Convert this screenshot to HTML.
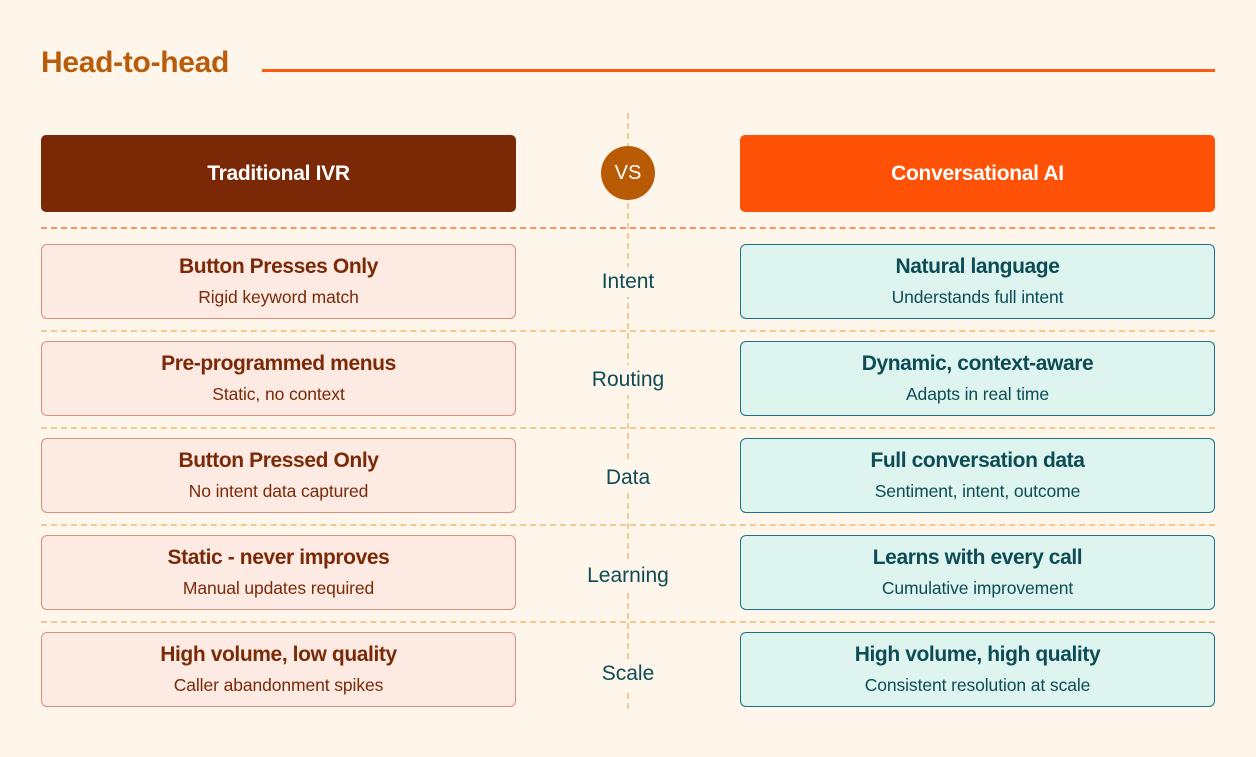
<!DOCTYPE html>
<html><head><meta charset="utf-8"><style>
*{margin:0;padding:0;box-sizing:border-box}
body{width:1256px;height:757px;background:#FEF6EA;font-family:"Liberation Sans",sans-serif;position:relative;overflow:hidden}
.a{position:absolute}
.title{left:41px;top:46px;font-size:30px;font-weight:bold;color:#B95C0B;letter-spacing:-0.3px}
.hl{left:262px;top:69px;width:953px;height:3px;background:#FF5A14}
.hd{top:135px;height:77px;border-radius:5px;color:#fff;font-size:21px;font-weight:bold;display:flex;align-items:center;justify-content:center;letter-spacing:-0.3px}
.vs{left:601px;top:146px;width:54px;height:54px;border-radius:50%;background:#B95A05;color:#fff;font-size:20px;display:flex;align-items:center;justify-content:center}
.vl{left:627px;top:113px;height:596px;border-left:2px dashed #F3C98F}
.dh{left:41px;width:1174px;height:0;border-top:2px dashed #F3C98F}
.box{height:75px;border-radius:6px;width:475px;text-align:center}
.L{left:41px;background:#FCEAE3;border:1px solid #D88E80;color:#7A2A07}
.R{left:740px;background:#DDF5EE;border:1px solid #1E7185;color:#0D4B55}
.box b{display:block;font-size:21px;margin-top:10px;letter-spacing:-0.4px}
.box span{display:block;font-size:17.5px;margin-top:8px;letter-spacing:-0.1px}
.lab{left:560px;width:136px;text-align:center;font-size:21px;color:#0D4B55;background:#FEF6EA;line-height:30px}
</style></head><body>
<div class="a title">Head-to-head</div>
<div class="a hl"></div>
<div class="a vl"></div>
<div class="a hd" style="left:41px;width:475px;background:#7A2805">Traditional IVR</div>
<div class="a hd" style="left:740px;width:475px;background:#FF5206">Conversational AI</div>
<div class="a vs">VS</div>
<div class="a dh" style="top:227px;border-top-color:#FF9060"></div>
<div class="a dh" style="top:330px"></div>
<div class="a dh" style="top:427px"></div>
<div class="a dh" style="top:524px"></div>
<div class="a dh" style="top:621px"></div>

<div class="a box L" style="top:244px"><b>Button Presses Only</b><span>Rigid keyword match</span></div>
<div class="a box R" style="top:244px"><b>Natural language</b><span>Understands full intent</span></div>
<div class="a lab" style="left:596px;width:64px;top:267px">Intent</div>

<div class="a box L" style="top:341px"><b>Pre-programmed menus</b><span>Static, no context</span></div>
<div class="a box R" style="top:341px"><b>Dynamic, context-aware</b><span>Adapts in real time</span></div>
<div class="a lab" style="left:584px;width:88px;top:365px">Routing</div>

<div class="a box L" style="top:438px"><b>Button Pressed Only</b><span>No intent data captured</span></div>
<div class="a box R" style="top:438px"><b>Full conversation data</b><span>Sentiment, intent, outcome</span></div>
<div class="a lab" style="left:600px;width:56px;top:463px">Data</div>

<div class="a box L" style="top:535px"><b>Static - never improves</b><span>Manual updates required</span></div>
<div class="a box R" style="top:535px"><b>Learns with every call</b><span>Cumulative improvement</span></div>
<div class="a lab" style="left:580px;width:96px;top:561px">Learning</div>

<div class="a box L" style="top:632px"><b>High volume, low quality</b><span>Caller abandonment spikes</span></div>
<div class="a box R" style="top:632px"><b>High volume, high quality</b><span>Consistent resolution at scale</span></div>
<div class="a lab" style="left:596px;width:64px;top:659px">Scale</div>
</body></html>
